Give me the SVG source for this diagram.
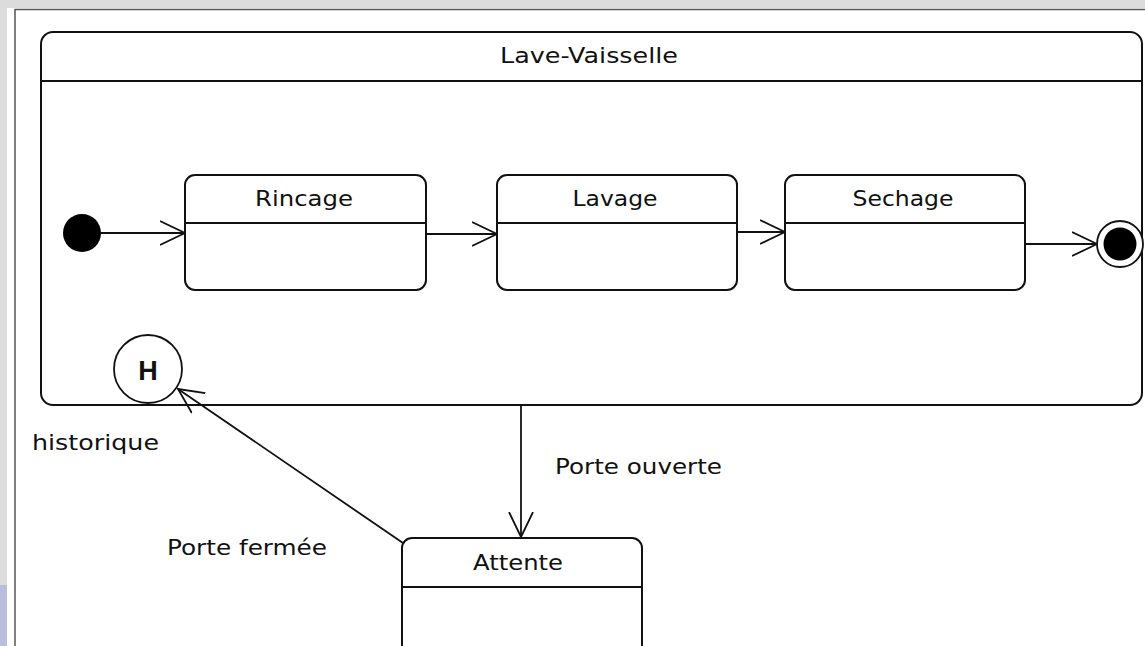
<svg xmlns="http://www.w3.org/2000/svg" width="1145" height="646" viewBox="0 0 1145 646">
  <style>
    .st { fill: #ffffff; stroke: #111111; stroke-width: 2; }
    .ln { fill: none; stroke: #111111; stroke-width: 1.8; }
    .lbl { font-family: "DejaVu Sans", "Liberation Sans", sans-serif; font-size: 21px; fill: #111111; }
    .ttl { text-anchor: middle; }
  </style>
  <defs>
    <marker id="open" viewBox="0 0 26 26" refX="25" refY="13" markerWidth="26" markerHeight="26" markerUnits="userSpaceOnUse" orient="auto">
      <path d="M0,1 L25,13 L0,25" fill="none" stroke="#111111" stroke-width="1.8"/>
    </marker>
  </defs>

  <!-- window frame -->
  <rect x="0" y="0" width="1145" height="646" fill="#dcdcdc"/>
  <rect x="0" y="585" width="7" height="61" fill="#b8bedc"/>
  <rect x="7" y="8" width="1138" height="638" fill="#ffffff"/>
  <path d="M15,646 V9.5 H1145" fill="none" stroke="#555555" stroke-width="1.5"/>

  <!-- composite state -->
  <g id="lave-vaisselle">
    <rect class="st" x="41" y="32" width="1101" height="373" rx="12"/>
    <line class="ln" x1="41" y1="81" x2="1142" y2="81"/>
    <text class="lbl ttl" x="589" y="63" textLength="178" lengthAdjust="spacingAndGlyphs">Lave-Vaisselle</text>
  </g>

  <g id="initial">
    <circle cx="82" cy="233" r="19" fill="#000000"/>
  </g>

  <g id="rincage">
    <rect class="st" x="185" y="175" width="241" height="115" rx="10"/>
    <line class="ln" x1="185" y1="223" x2="426" y2="223"/>
    <text class="lbl ttl" x="304" y="206" textLength="98" lengthAdjust="spacingAndGlyphs">Rincage</text>
  </g>

  <g id="lavage">
    <rect class="st" x="497" y="175" width="240" height="115" rx="10"/>
    <line class="ln" x1="497" y1="223" x2="737" y2="223"/>
    <text class="lbl ttl" x="615" y="206" textLength="85" lengthAdjust="spacingAndGlyphs">Lavage</text>
  </g>

  <g id="sechage">
    <rect class="st" x="785" y="175" width="240" height="115" rx="10"/>
    <line class="ln" x1="785" y1="223" x2="1025" y2="223"/>
    <text class="lbl ttl" x="903" y="206" textLength="101" lengthAdjust="spacingAndGlyphs">Sechage</text>
  </g>

  <g id="final">
    <circle cx="1120" cy="244" r="23" fill="#ffffff" stroke="#111111" stroke-width="1.8"/>
    <circle cx="1120" cy="244" r="16.5" fill="#000000"/>
  </g>

  <g id="historique">
    <circle cx="148" cy="369" r="34" fill="#ffffff" stroke="#111111" stroke-width="1.8"/>
    <text x="148" y="380" text-anchor="middle" font-family="Liberation Sans, Arial, sans-serif" font-weight="bold" font-size="27" fill="#111111">H</text>
    <text class="lbl" x="32" y="450" textLength="127" lengthAdjust="spacingAndGlyphs">historique</text>
  </g>

  <g id="attente">
    <rect class="st" x="402" y="538" width="240" height="130" rx="10"/>
    <line class="ln" x1="402" y1="587" x2="642" y2="587"/>
    <text class="lbl ttl" x="518" y="570" textLength="90" lengthAdjust="spacingAndGlyphs">Attente</text>
  </g>

  <!-- transitions -->
  <g id="connectors">
    <line class="ln" x1="101" y1="233" x2="185" y2="233" marker-end="url(#open)"/>
    <line class="ln" x1="426" y1="234" x2="497" y2="234" marker-end="url(#open)"/>
    <line class="ln" x1="737" y1="232" x2="785" y2="232" marker-end="url(#open)"/>
    <line class="ln" x1="1025" y1="244" x2="1097" y2="244" marker-end="url(#open)"/>
    <line class="ln" x1="521" y1="405" x2="521" y2="537" marker-end="url(#open)"/>
    <line class="ln" x1="403" y1="543" x2="178" y2="389" marker-end="url(#open)"/>
    <text class="lbl" x="555" y="474" textLength="167" lengthAdjust="spacingAndGlyphs">Porte ouverte</text>
    <text class="lbl" x="167" y="555" textLength="160" lengthAdjust="spacingAndGlyphs">Porte fermée</text>
  </g>
</svg>
